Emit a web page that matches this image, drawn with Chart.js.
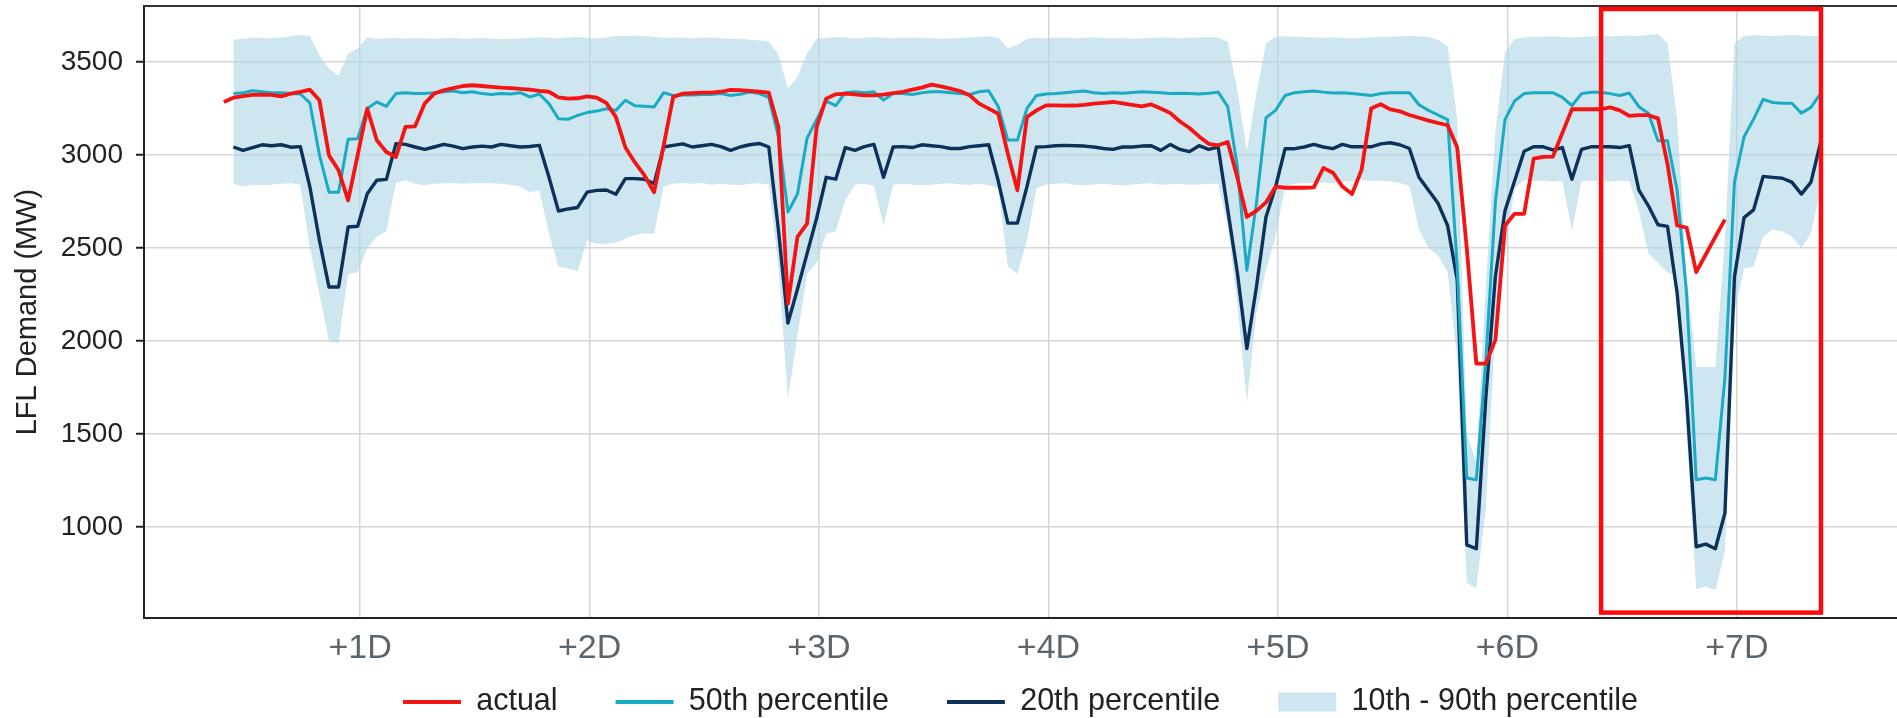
<!DOCTYPE html>
<html lang="en">
<head>
<meta charset="UTF-8">
<title>LFL Demand forecast</title>
<script src="https://cdn.jsdelivr.net/npm/chart.js@4.4.1/dist/chart.umd.min.js"></script>
<style>
    html, body { margin: 0; padding: 0; background: #fff; }
    .wrap { width: 1897px; height: 718px; }
</style>
</head>
<body>
<div class="wrap"><canvas id="demandChart" width="1897" height="718"></canvas></div>
<script>
// x is in hours after day 0; one value per hour
const actualStart = 9.75;
const forecastStart = 10.75;

const dayTicks = [24, 48, 72, 96, 120, 144, 168];
const dayLabels = ['+1D', '+2D', '+3D', '+4D', '+5D', '+6D', '+7D'];
const yTicks = [1000, 1500, 2000, 2500, 3000, 3500];

const actual = [
    3285,3308,3317,3323,3324,3323,3315,3330,3339,3351,
    3294,2998,2918,2756,3000,3249,3079,3016,2989,3151,
    3154,3276,3330,3348,3360,3371,3375,3371,3366,3362,
    3360,3355,3352,3345,3340,3310,3303,3305,3315,3308,
    3280,3205,3040,2960,2890,2800,3050,3312,3330,3332,
    3335,3335,3340,3350,3348,3345,3340,3335,3150,2201,
    2560,2631,3150,3303,3326,3330,3326,3320,3320,3324,
    3333,3339,3351,3362,3378,3369,3357,3344,3321,3276,
    3249,3222,3007,2810,3204,3240,3267,3267,3265,3266,
    3270,3276,3280,3285,3278,3270,3262,3272,3250,3225,
    3180,3145,3100,3060,3052,3070,2880,2667,2700,2745,
    2830,2824,2824,2824,2826,2930,2905,2830,2790,2920,
    3250,3273,3245,3235,3215,3200,3185,3172,3160,3040,
    2500,1879,1879,2006,2621,2684,2684,2981,2990,2991,
    3119,3246,3246,3246,3246,3256,3240,3210,3214,3214,
    3197,2950,2621,2610,2370,2465,2560,2653
];

const p50 = [
    3330,3335,3345,3340,3335,3335,3330,3328,3280,3000,
    2800,2800,3085,3088,3250,3285,3262,3330,3335,3330,
    3330,3335,3340,3344,3335,3340,3330,3325,3330,3328,
    3335,3312,3328,3276,3195,3192,3213,3228,3236,3249,
    3240,3294,3265,3262,3258,3335,3320,3322,3322,3325,
    3325,3330,3320,3326,3338,3330,3310,3100,2694,2790,
    3090,3190,3290,3265,3335,3340,3335,3340,3295,3330,
    3330,3325,3335,3340,3340,3335,3330,3325,3340,3345,
    3260,3080,3080,3250,3320,3328,3330,3335,3340,3344,
    3335,3330,3335,3332,3336,3340,3338,3335,3330,3332,
    3330,3328,3332,3338,3260,2940,2380,2740,3200,3240,
    3320,3335,3340,3344,3338,3333,3335,3330,3325,3320,
    3330,3335,3335,3335,3270,3240,3215,3190,2400,1264,
    1254,1900,2750,3190,3290,3330,3335,3335,3335,3310,
    3265,3330,3337,3337,3330,3320,3333,3260,3225,3076,
    3076,2811,2250,1254,1264,1254,1800,2854,3097,3193,
    3299,3282,3278,3278,3225,3256,3330
];

const p20 = [
    3043,3025,3040,3055,3050,3055,3042,3045,2828,2541,
    2290,2290,2613,2617,2792,2864,2869,3061,3057,3043,
    3030,3043,3057,3048,3034,3043,3048,3043,3057,3050,
    3043,3046,3052,2882,2699,2710,2718,2800,2810,2812,
    2789,2873,2873,2870,2846,3043,3052,3060,3043,3050,
    3057,3045,3025,3043,3055,3062,3043,2600,2097,2280,
    2470,2660,2880,2870,3040,3025,3045,3057,2880,3043,
    3045,3040,3055,3050,3045,3035,3035,3045,3050,3055,
    2860,2634,2634,2830,3043,3045,3050,3052,3050,3048,
    3043,3035,3030,3043,3043,3048,3050,3025,3057,3030,
    3018,3050,3030,3043,2706,2370,1960,2290,2667,2828,
    3034,3034,3043,3057,3043,3034,3057,3044,3045,3044,
    3060,3066,3055,3035,2880,2810,2740,2620,2330,904,
    883,1700,2350,2700,2860,3020,3044,3044,3027,3040,
    2870,3030,3044,3044,3044,3040,3050,2811,2727,2625,
    2616,2260,1690,894,908,883,1074,2345,2663,2705,
    2885,2880,2875,2854,2790,2854,3066
];

const p90 = [
    3620,3625,3630,3630,3628,3632,3640,3645,3640,3536,
    3464,3428,3545,3572,3631,3625,3628,3630,3625,3630,
    3628,3625,3628,3630,3625,3628,3630,3625,3622,3625,
    3628,3630,3632,3630,3628,3632,3635,3630,3628,3632,
    3640,3638,3642,3640,3635,3630,3632,3630,3628,3630,
    3632,3628,3625,3625,3620,3615,3610,3540,3357,3420,
    3545,3625,3630,3635,3632,3628,3630,3633,3630,3628,
    3630,3632,3630,3628,3625,3628,3630,3632,3635,3638,
    3630,3575,3590,3625,3630,3628,3630,3632,3628,3630,
    3632,3630,3628,3630,3625,3628,3630,3632,3630,3628,
    3630,3632,3635,3630,3610,3350,3020,3330,3600,3635,
    3638,3636,3635,3632,3630,3632,3630,3628,3630,3632,
    3635,3636,3638,3640,3638,3635,3620,3585,3193,1500,
    1350,2300,3129,3553,3625,3632,3635,3636,3638,3635,
    3632,3635,3638,3640,3638,3640,3642,3640,3645,3650,
    3600,3193,2345,1860,1860,1860,2550,3600,3640,3645,
    3642,3640,3642,3645,3642,3640,3638
];

const p10 = [
    2846,2830,2840,2838,2842,2845,2848,2840,2500,2250,
    2000,1990,2360,2370,2500,2560,2590,2850,2864,2846,
    2837,2846,2848,2850,2846,2848,2850,2848,2846,2840,
    2830,2800,2810,2580,2400,2390,2375,2540,2523,2523,
    2530,2550,2570,2580,2577,2830,2846,2850,2845,2850,
    2840,2845,2840,2838,2845,2848,2840,2400,1690,2030,
    2360,2420,2577,2590,2760,2840,2846,2835,2620,2840,
    2845,2842,2838,2840,2845,2848,2842,2840,2845,2838,
    2820,2400,2360,2540,2820,2842,2845,2848,2840,2838,
    2842,2845,2840,2836,2842,2845,2848,2840,2843,2845,
    2840,2842,2846,2846,2620,2200,1670,2150,2380,2560,
    2830,2846,2850,2848,2852,2850,2855,2860,2865,2860,
    2862,2858,2850,2835,2600,2500,2460,2370,1900,700,
    671,1100,2100,2480,2820,2864,2860,2862,2858,2860,
    2590,2860,2862,2860,2858,2862,2860,2700,2470,2420,
    2370,2340,1500,665,680,660,870,2150,2390,2400,
    2560,2600,2590,2560,2500,2580,2810
];

// highlighted window (hours, MW)
const highlightX = [153.8, 176.8];
const highlightY = [540, 3785];

const RED = '#f41414';
const CYAN = '#19abc4';
const NAVY = '#0c315a';
const BAND = 'rgba(173, 214, 229, 0.6)';
const GRID = '#d6d6d6';

const toPoints = (start, values) => values.map((v, k) => ({ x: start + k, y: v }));

Chart.defaults.font.family = "'Liberation Sans', Arial, sans-serif";

// top frame line + red highlight box
const overlayPlugin = {
    id: 'overlay',
    afterDraw(chart) {
        const { ctx, chartArea: a, scales: { x, y } } = chart;
        ctx.save();
        ctx.strokeStyle = '#333';
        ctx.lineWidth = 2;
        ctx.beginPath();
        ctx.moveTo(a.left, a.top);
        ctx.lineTo(a.right, a.top);
        ctx.stroke();

        const l = x.getPixelForValue(highlightX[0]);
        const r = x.getPixelForValue(highlightX[1]);
        const t = y.getPixelForValue(highlightY[1]);
        const b = y.getPixelForValue(highlightY[0]);
        ctx.strokeStyle = '#ff0a0a';
        ctx.lineWidth = 4.5;
        ctx.strokeRect(l, t, r - l, b - t);
        ctx.restore();
    }
};

const legendItems = [
    { text: 'actual', pointStyle: 'line', strokeStyle: RED, fillStyle: RED, lineWidth: 4, fontColor: '#222' },
    { text: '50th percentile', pointStyle: 'line', strokeStyle: CYAN, fillStyle: CYAN, lineWidth: 4, fontColor: '#222' },
    { text: '20th percentile', pointStyle: 'line', strokeStyle: NAVY, fillStyle: NAVY, lineWidth: 4, fontColor: '#222' },
    { text: '10th - 90th percentile', pointStyle: 'rect', strokeStyle: BAND, fillStyle: BAND, lineWidth: 0, fontColor: '#222' }
];

const lineDefaults = { pointRadius: 0, tension: 0, borderJoinStyle: 'round', fill: false };

new Chart(document.getElementById('demandChart').getContext('2d'), {
    type: 'line',
    data: {
        datasets: [
            { ...lineDefaults, label: 'actual', data: toPoints(actualStart, actual), borderColor: RED, borderWidth: 3.8 },
            { ...lineDefaults, label: '50th percentile', data: toPoints(forecastStart, p50), borderColor: CYAN, borderWidth: 3 },
            { ...lineDefaults, label: '20th percentile', data: toPoints(forecastStart, p20), borderColor: NAVY, borderWidth: 3.4 },
            { ...lineDefaults, label: '90th percentile', data: toPoints(forecastStart, p90), borderWidth: 0, backgroundColor: BAND, fill: '+1' },
            { ...lineDefaults, label: '10th percentile', data: toPoints(forecastStart, p10), borderWidth: 0 }
        ]
    },
    options: {
        responsive: false,
        animation: false,
        devicePixelRatio: 1,
        layout: { padding: { top: 6, right: 0, bottom: -9.25, left: 0 } },
        scales: {
            x: {
                type: 'linear',
                min: 1.4,
                max: 184.75,
                afterBuildTicks: s => { s.ticks = dayTicks.map(v => ({ value: v })); },
                afterFit: s => { s.height = 10.75; s.paddingLeft = 0; s.paddingRight = 0; },
                ticks: {
                    autoSkip: false,
                    maxRotation: 0,
                    // mirrored so the labels are not clipped to the thin axis box
                    mirror: true,
                    padding: -51,
                    color: '#5b656d',
                    font: { size: 34 },
                    callback: v => dayLabels[dayTicks.indexOf(v)]
                },
                grid: { color: GRID, lineWidth: 1.5, drawTicks: false },
                border: { color: '#222', width: 2 }
            },
            y: {
                min: 511,
                max: 3801,
                afterBuildTicks: s => { s.ticks = yTicks.map(v => ({ value: v })); },
                afterFit: s => { s.width = 144; s.paddingTop = 0; s.paddingBottom = 0; },
                ticks: {
                    padding: 13,
                    color: '#222',
                    font: { size: 28 },
                    callback: v => String(v)
                },
                grid: { color: GRID, lineWidth: 1.5, tickLength: 8, tickColor: '#222', tickWidth: 2 },
                border: { color: '#222', width: 2 },
                title: {
                    display: true,
                    text: 'LFL Demand (MW)',
                    color: '#222',
                    font: { size: 29 },
                    padding: { top: 11, bottom: 0 }
                }
            }
        },
        plugins: {
            tooltip: { enabled: false },
            legend: {
                position: 'bottom',
                fullSize: false,
                labels: {
                    usePointStyle: true,
                    pointStyleWidth: 58,
                    boxHeight: 19,
                    padding: 58,
                    color: '#222',
                    font: { size: 30.5 },
                    generateLabels: () => legendItems
                }
            }
        }
    },
    plugins: [overlayPlugin]
});
</script>
</body>
</html>
